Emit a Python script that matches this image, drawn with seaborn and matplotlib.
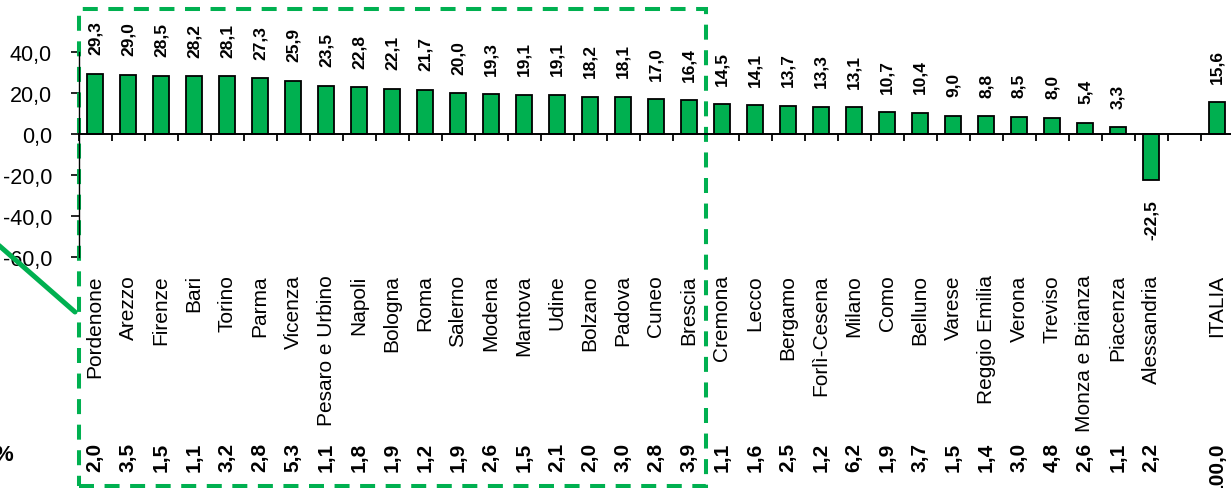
import matplotlib
matplotlib.use('Agg')

import numpy as np
import pandas as pd
import matplotlib.pyplot as plt
import matplotlib.transforms as mtransforms
from matplotlib.patches import Rectangle
from matplotlib.lines import Line2D
from matplotlib.ticker import FuncFormatter
import seaborn as sns

# province ordinate per variazione, con uno spazio vuoto prima del dato nazionale
provinces = ["Pordenone", "Arezzo", "Firenze", "Bari", "Torino", "Parma", "Vicenza",
             "Pesaro e Urbino", "Napoli", "Bologna", "Roma", "Salerno", "Modena",
             "Mantova", "Udine", "Bolzano", "Padova", "Cuneo", "Brescia", "Cremona",
             "Lecco", "Bergamo", "Forlì-Cesena", "Milano", "Como", "Belluno", "Varese",
             "Reggio Emilia", "Verona", "Treviso", "Monza e Brianza", "Piacenza",
             "Alessandria", "", "ITALIA"]
variation = [29.3, 29.0, 28.5, 28.2, 28.1, 27.3, 25.9, 23.5, 22.8, 22.1, 21.7, 20.0,
             19.3, 19.1, 19.1, 18.2, 18.1, 17.0, 16.4, 14.5, 14.1, 13.7, 13.3, 13.1,
             10.7, 10.4, 9.0, 8.8, 8.5, 8.0, 5.4, 3.3, -22.5, np.nan, 15.6]
weight = [2.0, 3.5, 1.5, 1.1, 3.2, 2.8, 5.3, 1.1, 1.8, 1.9, 1.2, 1.9, 2.6, 1.5, 2.1,
          2.0, 3.0, 2.8, 3.9, 1.1, 1.6, 2.5, 1.2, 6.2, 1.9, 3.7, 1.5, 1.4, 3.0, 4.8,
          2.6, 1.1, 2.2, np.nan, 100.0]
y_ticks = [-60, -40, -20, 0, 20, 40]
n_highlight = 19

GREEN = "#00B050"


def fmt(v):
    return f"{v:.1f}".replace(".", ",")


sns.set_style("white")
plt.rcParams['font.family'] = ["Liberation Sans", "DejaVu Sans"]
plt.rcParams['text.color'] = "black"
plt.rcParams['xtick.color'] = "black"
plt.rcParams['ytick.color'] = "black"
plt.rcParams['axes.edgecolor'] = "black"

df = pd.DataFrame({"provincia": provinces, "var": variation}).dropna()

W, H = 1231, 489
fig = plt.figure(figsize=(W / 100, H / 100), dpi=100)
ax = fig.add_axes([78.5 / W, 231 / H, 1155 / W, 205 / H])

sns.barplot(data=df, x="provincia", y="var", order=provinces, color=GREEN,
            saturation=1, width=0.5, edgecolor="black", linewidth=1.3, ax=ax)

ax.set_xlim(-0.5, len(provinces) - 0.5)
ax.set_ylim(-60, 40)
ax.set_xlabel("")
ax.set_ylabel("")

for s in ["top", "right"]:
    ax.spines[s].set_visible(False)
ax.spines["bottom"].set_position(("data", 0))
ax.spines["bottom"].set_linewidth(1.4)
ax.spines["left"].set_linewidth(1.0)

ax.set_yticks(y_ticks)
ax.yaxis.set_major_formatter(FuncFormatter(lambda v, p: fmt(v)))
ax.tick_params(axis="y", left=True, length=6, width=1.2, pad=13, labelsize=15.5,
               direction="out", labelcolor="black")

ax.set_xticks(range(len(provinces)))
ax.set_xticklabels(provinces, rotation=90, fontsize=15)
ax.set_xticks(np.arange(-0.5, len(provinces), 1), minor=True)
ax.tick_params(axis="x", which="major", bottom=True, length=0, pad=101,
               labelcolor="black")
ax.tick_params(axis="x", which="minor", bottom=True, length=5, width=1.3,
               direction="out")

# etichette dei valori
for i, v in enumerate(variation):
    if np.isnan(v):
        continue
    off = 14 if v >= 0 else -14
    ax.annotate(fmt(v), (i, v), xytext=(0, off), textcoords="offset points",
                rotation=90, ha="center", va="bottom" if v >= 0 else "top",
                fontsize=12.5, fontweight="bold", annotation_clip=False)

# pesi in basso
blend = mtransforms.blended_transform_factory(ax.transData, fig.transFigure)
for i, w in enumerate(weight):
    if np.isnan(w):
        continue
    ax.text(i, 1 - 443 / H, fmt(w), transform=blend, rotation=90, ha="center",
            va="top", fontsize=15, fontweight="bold", clip_on=False)

fig.text(13 / W, 1 - 456 / H, "%", ha="right", va="center", fontsize=16,
         fontweight="bold")

# riquadro tratteggiato sulle prime province
lw = 2.9
rect = Rectangle((-0.5, 1 - 487 / H), n_highlight, (487 - 10) / H, transform=blend,
                 fill=False, edgecolor=GREEN, linewidth=lw,
                 linestyle=(0, (10.8 / lw, 7.6 / lw)), clip_on=False)
ax.add_patch(rect)

fig.add_artist(Line2D([-5 / W, 75 / W], [1 - 243 / H, 1 - 313 / H],
                      transform=fig.transFigure, color=GREEN, linewidth=3.6))

fig.savefig("out.png", dpi=100)
